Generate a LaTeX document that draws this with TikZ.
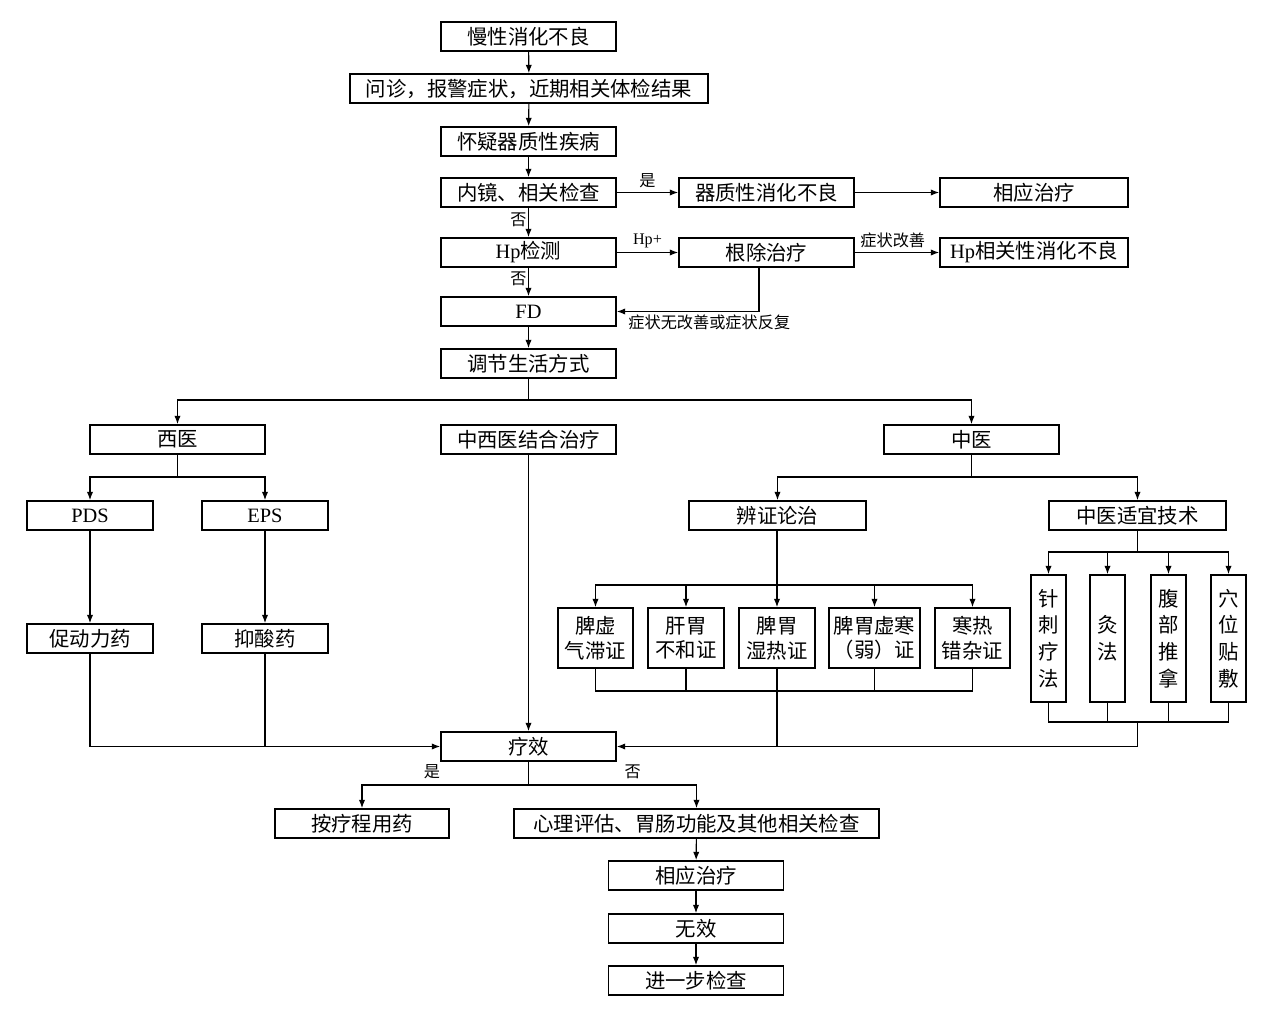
\documentclass[tikz,border=0pt]{standalone}
\usepackage{fontspec}
\setmainfont{Noto Sans CJK SC}
\newfontfamily\lat{Liberation Serif}
\usetikzlibrary{arrows.meta,positioning,calc}
\newcommand\px{0.025cm}
\tikzset{
  box/.style={rectangle,draw,line width=1.1pt,inner sep=0pt,minimum height=29*\px,
    minimum width=175*\px,align=center,font=\fontsize{14.5pt}{17.5pt}\selectfont},
  wbox/.style={box,minimum width=#1*\px},
  sbox/.style={box,minimum height=60*\px,minimum width=#1*\px},
  tbox/.style={box,minimum height=127*\px,minimum width=35*\px,
    font=\fontsize{14.5pt}{19pt}\selectfont},
  arrow/.style={-{Latex[length=6pt,width=4.5pt]},line width=0.8pt},
  link/.style={line width=0.8pt},
  lbl/.style={font=\fontsize{11.5pt}{13pt}\selectfont,inner sep=1pt}
}
\begin{document}
\begin{tikzpicture}[x=\px,y=-\px]
  \useasboundingbox (0,0) rectangle (1262,1026);
  % main trunk
  \node[box] (dys) at (528.5,36.5) {慢性消化不良};
  \node[wbox=358] (inq) at (529,88.5) {问诊，报警症状，近期相关体检结果};
  \node[box] (org) at (528.5,141.5) {怀疑器质性疾病};
  \node[box] (endo) at (528.5,192.5) {内镜、相关检查};
  \node[box] (odys) at (766.5,192.5) {器质性消化不良};
  \node[wbox=188] (trtA) at (1034,192.5) {相应治疗};
  \node[box] (hp) at (528.5,252.5) {{\lat Hp}检测};
  \node[box] (erad) at (766.5,252.5) {根除治疗};
  \node[wbox=188] (hpd) at (1034,252.5) {{\lat Hp}相关性消化不良};
  \node[box] (fd) at (528.5,311.5) {\lat FD};
  \node[box] (life) at (528.5,363.5) {调节生活方式};
  \draw[arrow] (dys) -- (inq);
  \draw[arrow] (inq) -- (org);
  \draw[arrow] (org) -- (endo);
  \draw[arrow] (endo) -- node[lbl,left,pos=0.4]{否} (hp);
  \draw[arrow] (hp) -- node[lbl,left,pos=0.4]{否} (fd);
  \draw[arrow] (fd) -- (life);
  \draw[arrow] (endo) -- node[lbl,above,pos=0.5,yshift=2pt]{是} (odys);
  \draw[arrow] (odys) -- (trtA);
  \draw[arrow] (hp) -- node[lbl,above,pos=0.5,yshift=2pt]{{\lat Hp+}} (erad);
  \draw[arrow] (erad) -- node[lbl,above,pos=0.45,yshift=2pt]{症状改善} (hpd);
  \draw[arrow] (erad.south -| 759,0) |- (fd.east);
  \node[lbl,anchor=north west] (backlbl) at ($(fd.east)+(10,2)$) {症状无改善或症状反复};
  % three branches
  \node[box] (wm) at (177.5,439.5) {西医};
  \node[box] (comb) at (528.5,439.5) {中西医结合治疗};
  \node[box] (tcm) at (971.5,439.5) {中医};
  \coordinate (brA) at (528.5,400);
  \draw[link] (life) -- (brA);
  \draw[arrow] (brA) -| (wm.north);
  \draw[arrow] (brA) -| (tcm.north);
  % western medicine
  \node[wbox=126] (pds) at (90,515.5) {\lat PDS};
  \node[wbox=126] (eps) at (265,515.5) {\lat EPS};
  \node[wbox=126] (pro) at (90,638.5) {促动力药};
  \node[wbox=126] (acid) at (265,638.5) {抑酸药};
  \coordinate (brW) at (177.5,477);
  \draw[link] (wm) -- (brW);
  \draw[arrow] (brW) -| (pds.north);
  \draw[arrow] (brW) -| (eps.north);
  \draw[arrow] (pds) -- (pro);
  \draw[arrow] (eps) -- (acid);
  % efficacy
  \node[box] (eff) at (528.5,746.5) {疗效};
  \draw[arrow] (pro.south) |- (eff.west);
  \draw[link] (acid.south) -- (acid.south |- eff.west);
  \draw[arrow] (comb) -- (eff);
  % chinese medicine
  \node[wbox=177] (syn) at (777.5,515.5) {辨证论治};
  \node[wbox=177] (tech) at (1137.5,515.5) {中医适宜技术};
  \coordinate (brT) at (971.5,477);
  \draw[link] (tcm) -- (brT);
  \draw[arrow] (brT) -| (syn.north);
  \draw[arrow] (brT) -| (tech.north);
  \node[sbox=75] (sA) at (595.5,638) {脾虚\\气滞证};
  \node[sbox=76] (sB) at (686,638) {肝胃\\不和证};
  \node[sbox=76] (sC) at (777,638) {脾胃\\湿热证};
  \node[sbox=91] (sD) at (874.5,638) {脾胃虚寒\\（弱）证};
  \node[sbox=75] (sE) at (972.5,638) {寒热\\错杂证};
  \coordinate (brS) at (777,585);
  \coordinate (jnS) at (777,691);
  \draw[link] (syn.south -| brS) -- (brS);
  \foreach \s in {sA,sB,sC,sD,sE}{
    \draw[arrow] (brS) -| (\s.north);
    \draw[link] (\s.south) |- (jnS);
  }
  \node[tbox] (tA) at (1048.5,638.5) {针\\刺\\疗\\法};
  \node[tbox] (tB) at (1107.5,638.5) {灸\\法};
  \node[tbox] (tC) at (1168.5,638.5) {腹\\部\\推\\拿};
  \node[tbox] (tD) at (1228.5,638.5) {穴\\位\\贴\\敷};
  \coordinate (brQ) at (1137.5,552);
  \coordinate (jnQ) at (1137.5,722);
  \draw[link] (tech) -- (brQ);
  \foreach \t in {tA,tB,tC,tD}{
    \draw[arrow] (brQ) -| (\t.north);
    \draw[link] (\t.south) |- (jnQ);
  }
  \draw[arrow] (jnQ) |- (eff.east);
  \draw[link] (jnS) -- (jnS |- eff.east);
  % outcome
  \node[wbox=174] (med) at (362,823.5) {按疗程用药};
  \node[wbox=365] (psy) at (696.5,823.5) {心理评估、胃肠功能及其他相关检查};
  \node[box] (trtB) at (696,875.5) {相应治疗};
  \node[box] (inv) at (696,928.5) {无效};
  \node[box] (exam) at (696,980.5) {进一步检查};
  \coordinate (brE) at (528.5,785);
  \draw[link] (eff) -- (brE);
  \draw[arrow] (brE) -| node[lbl,above,pos=0.29,yshift=3pt]{是} (med.north);
  \draw[arrow] (brE) -| node[lbl,above,pos=0.31,yshift=3pt]{否} (psy.north);
  \draw[arrow] (psy) -- (trtB);
  \draw[arrow] (trtB) -- (inv);
  \draw[arrow] (inv) -- (exam);
\end{tikzpicture}
\end{document}
